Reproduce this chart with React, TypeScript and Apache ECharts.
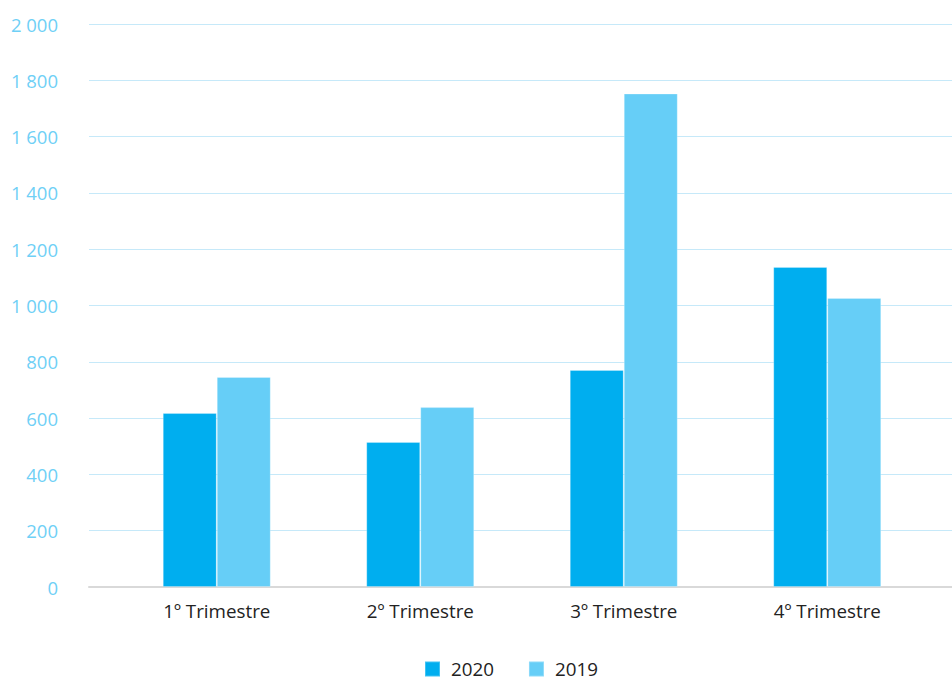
import React, { useEffect, useRef } from "react";
import * as echarts from "echarts";

const categories = ["1º Trimestre", "2º Trimestre", "3º Trimestre", "4º Trimestre"];
const values2020 = [618, 515, 771, 1137];
const values2019 = [746, 639, 1753, 1027];
const seriesNames = ["2020", "2019"];

const fmt = (v: number) => String(v).replace(/\B(?=(\d{3})+(?!\d))/g, " ");

export default function App() {
  const ref = useRef<HTMLDivElement>(null);
  useEffect(() => {
    if (!ref.current) return;
    const chart = echarts.init(ref.current, null, { renderer: "svg" });
    const font = "'Open Sans', sans-serif";
    chart.setOption({
      animation: false,
      backgroundColor: "#ffffff",
      textStyle: { fontFamily: font },
      grid: [
        { left: 89, right: 0, top: 24, bottom: 90 },
        { left: 115, right: 23, top: 24, bottom: 90 },
      ],
      legend: {
        top: 658,
        left: 424,
        padding: 0,
        icon: "rect",
        itemWidth: 15,
        itemHeight: 15,
        itemGap: 34,
        textStyle: { fontFamily: font, fontSize: 18.8, lineHeight: 22, color: "#222222", padding: [0, 0, 0, 6] },
        data: seriesNames,
      },
      xAxis: [
        {
          gridIndex: 0,
          type: "value",
          min: 0,
          max: 1,
          axisLine: { show: true, lineStyle: { color: "#d9d9d9", width: 2 } },
          axisTick: { show: false },
          axisLabel: { show: false },
          splitLine: { show: false },
        },
        {
          gridIndex: 1,
          type: "category",
          data: categories,
          axisLine: { show: false },
          axisTick: { show: false },
          axisLabel: { color: "#222222", fontSize: 18.8, fontFamily: font, margin: 14 },
          splitLine: { show: false },
        },
      ],
      yAxis: [
        {
          gridIndex: 0,
          type: "value",
          min: 0,
          max: 2000,
          interval: 200,
          axisLine: { show: false },
          axisTick: { show: false },
          axisLabel: {
            color: "#6fd0f6",
            fontSize: 18.5,
            fontFamily: font,
            margin: 31,
            formatter: (v: number) => fmt(v),
          },
          splitLine: { show: true, lineStyle: { color: "#c6e9f9", width: 1 } },
        },
        {
          gridIndex: 1,
          type: "value",
          min: 0,
          max: 2000,
          interval: 200,
          show: false,
          splitLine: { show: false },
        },
      ],
      series: [
        {
          name: seriesNames[0],
          type: "bar",
          xAxisIndex: 1,
          yAxisIndex: 1,
          data: values2020,
          barWidth: 54,
          barGap: "0%",
          itemStyle: { color: "#00aeef", borderColor: "rgba(255,255,255,0.25)", borderWidth: 1 },
        },
        {
          name: seriesNames[1],
          type: "bar",
          xAxisIndex: 1,
          yAxisIndex: 1,
          data: values2019,
          barWidth: 54,
          barGap: "0%",
          itemStyle: { color: "#66cef7", borderColor: "rgba(255,255,255,0.25)", borderWidth: 1 },
        },
      ],
    });
    return () => chart.dispose();
  }, []);
  return (
    <div
      ref={ref}
      style={{ position: "fixed", left: 0, top: 0, width: 952, height: 677 }}
    />
  );
}
